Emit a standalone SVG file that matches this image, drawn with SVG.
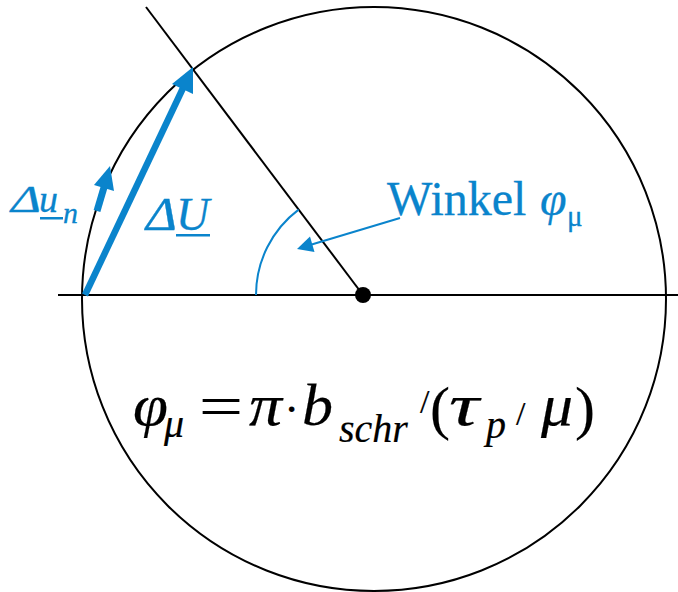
<svg xmlns="http://www.w3.org/2000/svg" width="678" height="592" viewBox="0 0 678 592">
<style>
.blk{stroke:#000;stroke-width:2;fill:none}
.bl{fill:#0a84cc}
.blt{font-family:"Liberation Serif","Times New Roman",serif;fill:#0a84cc;stroke:#0a84cc;stroke-width:0.3}
.fm{font-family:"Liberation Serif","Times New Roman",serif;fill:#000;stroke:#000;stroke-width:0.2}
.it{font-style:italic}
</style>
<rect width="678" height="592" fill="#fff"/>
<g id="circle"><circle class="blk" cx="374" cy="299" r="292"/></g>
<g id="connectors">
<line class="blk" x1="58" y1="295" x2="678" y2="295"/>
<line class="blk" x1="146" y1="7" x2="363" y2="295"/>
<path d="M256 295 A107 107 0 0 1 298.6 209.6" stroke="#0a84cc" stroke-width="2" fill="none"/>
<line x1="85" y1="295" x2="184" y2="86" stroke="#0a84cc" stroke-width="6.5"/>
<polygon class="bl" points="193,67 172,84 193,94"/>
<line x1="97" y1="211" x2="105" y2="184" stroke="#0a84cc" stroke-width="7"/>
<polygon class="bl" points="110,166 94,185 114,191"/>
<line x1="400" y1="218" x2="310" y2="245" stroke="#0a84cc" stroke-width="2"/>
<polygon class="bl" points="297,249 310,236.5 314.5,252"/>
</g>
<g id="center"><circle cx="363" cy="295" r="8" fill="#000"/></g>
<g id="label-du">
<text class="blt it" x="11" y="212" font-size="38" textLength="30" lengthAdjust="spacingAndGlyphs">Δ</text>
<text class="blt it" x="39" y="212" font-size="38">u<tspan x="63" y="223" font-size="30">n</tspan></text>
<rect class="bl" x="40" y="217" width="23" height="2.5"/>
</g>
<g id="label-dU">
<text class="blt it" x="146" y="230" font-size="46" textLength="31" lengthAdjust="spacingAndGlyphs">Δ</text>
<text class="blt it" x="176" y="230" font-size="46">U</text>
<rect class="bl" x="176" y="234" width="34" height="2.5"/>
</g>
<g id="label-winkel">
<text class="blt" x="387" y="215" font-size="48">Winkel <tspan class="it" x="540" font-size="48">φ</tspan><tspan x="567" y="226" font-size="29">μ</tspan></text>
</g>
<g id="formula">
<text class="fm it" x="133" y="425" font-size="60" textLength="35" lengthAdjust="spacingAndGlyphs">φ</text>
<text class="fm it" x="164" y="437" font-size="40">μ</text>
<text class="fm" x="199" y="426" font-size="60" textLength="44" lengthAdjust="spacingAndGlyphs">=</text>
<text class="fm it" x="249" y="425" font-size="60" textLength="33" lengthAdjust="spacingAndGlyphs">π</text>
<text class="fm" x="284" y="425" font-size="46">·</text>
<text class="fm it" x="302" y="425" font-size="60" textLength="31" lengthAdjust="spacingAndGlyphs">b</text>
<text class="fm it" x="339" y="442" font-size="40">schr</text>
<text class="fm" x="420" y="413" font-size="34">/</text>
<text class="fm" x="430" y="428" font-size="60">(</text>
<text class="fm it" x="449" y="425" font-size="60" textLength="30" lengthAdjust="spacingAndGlyphs">τ</text>
<text class="fm it" x="486" y="438" font-size="40">p</text>
<text class="fm" x="516" y="425" font-size="34">/</text>
<text class="fm it" x="541" y="425" font-size="60" textLength="32" lengthAdjust="spacingAndGlyphs">μ</text>
<text class="fm" x="575" y="428" font-size="60">)</text>
</g>
</svg>
